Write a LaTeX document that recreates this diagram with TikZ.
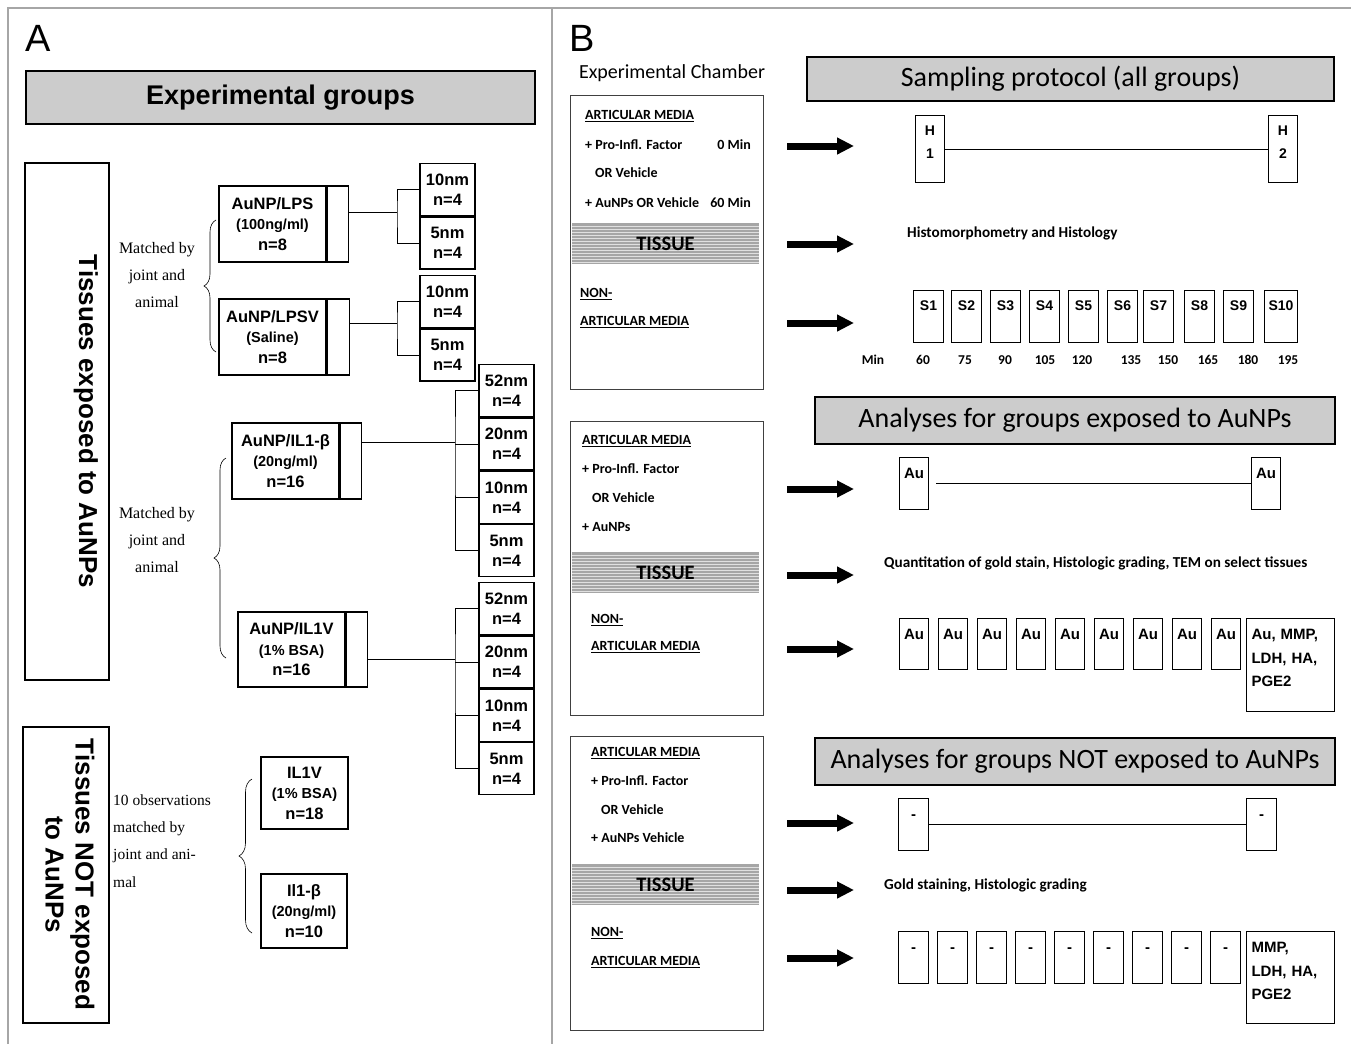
\documentclass[tikz,border=0pt]{standalone}
\usepackage{fontspec}
\setmainfont{Liberation Sans}
\newfontfamily\calibfont{Carlito}
\newfontfamily\romfont{Liberation Serif}
\usetikzlibrary{positioning,arrows.meta,calc,decorations.pathreplacing}
\newcommand{\fsz}[2]{\fontsize{#1}{#2}\selectfont}

\begin{document}
\begin{tikzpicture}[x=1pt, y=-1pt,
  every node/.style={inner sep=0pt},
  frame/.style={draw=black!35, line width=1.4pt},
  headbox/.style={draw, line width=1.3pt, fill=black!20},
  grpbox/.style={draw, line width=1.1pt, minimum width=107pt, minimum height=76pt,
                 align=center, font=\bfseries\fsz{16.5}{20.5}},
  tailbox/.style={draw, line width=1.1pt, minimum width=21pt, minimum height=76pt},
  sizebox/.style={draw, line width=1.3pt, minimum width=55pt, minimum height=52pt,
                  align=center, font=\bfseries\fsz{16.5}{20}},
  link/.style={line width=0.9pt},
  curly/.style={decorate, decoration={brace, amplitude=#1}, line width=0.6pt},
  romtext/.style={font=\romfont\fsz{16}{27}},
  chamber/.style={draw=black!75, line width=1pt, minimum width=193pt, minimum height=294pt},
  chtext/.style={anchor=west, font=\calibfont\bfseries\fsz{14}{16}},
  tissue/.style={fill=black!35, minimum width=187pt, minimum height=41pt,
                 font=\calibfont\bfseries\fsz{20.5}{22},
                 path picture={\foreach \k in {1,...,13}{
                   \draw[black!12, line width=0.8pt]
                     ($(path picture bounding box.north west)+(0,3*\k)$) --
                     ($(path picture bounding box.north east)+(0,3*\k)$);}}},
  fatarrow/.style={line width=7pt, -{Triangle[length=17pt, width=16pt]}},
  desc/.style={anchor=west, font=\calibfont\bfseries\fsz{15.2}{17}},
  minlbl/.style={font=\calibfont\bfseries\fsz{13.5}{15}},
  sampbox/.style={draw, line width=1pt, anchor=north west, minimum width=30pt,
                  text height=20pt, text depth=32pt, font=\bfseries\fsz{14}{16}},
  hbox/.style={draw, line width=1pt, anchor=north west, text width=29pt, align=center,
               text height=20pt, text depth=47pt, font=\bfseries\fsz{14}{23}},
  aubox/.style={draw, line width=1pt, anchor=north west, minimum width=29pt,
                text height=21pt, text depth=31pt, font=\bfseries\fsz{15}{17}},
  bigbox/.style={draw, line width=1pt, anchor=north west, text width=78pt, inner xsep=5pt,
                 align=left, text height=21pt, font=\bfseries\fsz{15}{23.5}}]
\useasboundingbox (0,0) rectangle (1351,1044);

% frame and panel letters
\draw[frame] (8,1044) -- (8,8) -- (1351,8);
\draw[frame] (552,8) -- (552,1044);
\node[font=\fsz{38}{40}] (labA) at (38,38.5) {A};
\node[font=\fsz{38}{40}] (labB) at (582,38.5) {B};

% ---------- panel A ----------
\node[headbox, minimum width=509pt, minimum height=53pt, font=\bfseries\fsz{27}{29}]
  (grpHd) at (280.5,97.5) {Experimental groups};

\node[draw, line width=1.1pt, minimum width=84pt, minimum height=517pt] (expBox) at (67,421.5) {};
\node[rotate=-90, anchor=base, font=\bfseries\fsz{26}{30}] (expTxt) at (79,421.5) {Tissues exposed to AuNPs};
\node[draw, line width=1.1pt, minimum width=86pt, minimum height=296pt] (ctlBox) at (66,875) {};
\node[rotate=-90, align=center, font=\bfseries\fsz{26}{30}] (ctlTxt) at (70,874.5) {Tissues NOT exposed\\to AuNPs};

% matched groups
\node[romtext, align=center] (match1) at (157,275) {Matched by\\joint and\\animal};
\draw[curly=12pt] (216,352) -- (216,220);
\node[romtext, align=center] (match2) at (157,540) {Matched by\\joint and\\animal};
\draw[curly=12pt] (226,658) -- (226,458);
\node[romtext, align=left, anchor=west, font=\romfont\fsz{15.5}{27.3}] (obs) at (113,841)
  {10 observations\\matched by\\joint and ani-\\mal};
\draw[curly=13pt] (252,933) -- (252,779);

\node[grpbox] (lps) at (272.5,224) {AuNP/LPS\\{\fsz{14.5}{20.5}(100ng/ml)}\\n=8};
\node[tailbox, right=0pt of lps] (lpsT) {};
\node[grpbox] (lpsv) at (272.5,337) {AuNP/LPSV\\{\fsz{14.5}{20.5}(Saline)}\\n=8};
\node[tailbox, minimum width=22pt, right=0pt of lpsv] (lpsvT) {};
\node[grpbox] (ilb) at (285.5,461) {AuNP/IL1-β\\{\fsz{14.5}{20.5}(20ng/ml)}\\n=16};
\node[tailbox, right=0pt of ilb] (ilbT) {};
\node[grpbox, minimum height=75pt] (ilv) at (291.5,649.5) {AuNP/IL1V\\{\fsz{14.5}{20.5}(1\% BSA)}\\n=16};
\node[tailbox, minimum height=75pt, right=0pt of ilv] (ilvT) {};
\node[grpbox, minimum width=87pt, minimum height=72pt] (ctlv) at (304.5,793) {IL1V\\{\fsz{14.5}{20.5}(1\% BSA)}\\n=18};
\node[grpbox, minimum width=86pt, minimum height=74pt] (ctlb) at (304,911) {Il1-β\\{\fsz{14.5}{20.5}(20ng/ml)}\\n=10};

% particle sizes
\node[sizebox, anchor=north] (lps10) at (447.5,163) {10nm\\n=4};
\node[sizebox, below=0pt of lps10] (lps5) {5nm\\n=4};
\node[sizebox, anchor=north] (lpsv10) at (447.5,275) {10nm\\n=4};
\node[sizebox, below=0pt of lpsv10] (lpsv5) {5nm\\n=4};
\node[sizebox, anchor=north] (ilb52) at (506.5,364) {52nm\\n=4};
\node[sizebox, below=0pt of ilb52] (ilb20) {20nm\\n=4};
\node[sizebox, below=0pt of ilb20] (ilb10) {10nm\\n=4};
\node[sizebox, below=0pt of ilb10] (ilb5) {5nm\\n=4};
\node[sizebox, anchor=north] (ilv52) at (506.5,582) {52nm\\n=4};
\node[sizebox, below=0pt of ilv52] (ilv20) {20nm\\n=4};
\node[sizebox, below=0pt of ilv20] (ilv10) {10nm\\n=4};
\node[sizebox, below=0pt of ilv10] (ilv5) {5nm\\n=4};

\coordinate (jlps) at (397,212);
\coordinate (jlpsv) at (397,323);
\coordinate (jilb) at (455,442);
\coordinate (jilv) at (455,659);
\draw[link] (jlps -| lpsT.east) -- (jlps);
\draw[link] (lps10.west) -| (jlps) |- (lps5.west);
\draw[link] (jlpsv -| lpsvT.east) -- (jlpsv);
\draw[link] (lpsv10.west) -| (jlpsv) |- (lpsv5.west);
\draw[link] (jilb -| ilbT.east) -- (jilb);
\draw[link] (ilb52.west) -| (jilb) |- (ilb5.west);
\draw[link] (jilv -| ilvT.east) -- (jilv);
\draw[link] (ilv52.west) -| (jilv) |- (ilv5.west);
\foreach \s in {20,10}{
  \draw[link] (jilb |- ilb\s.west) -- (ilb\s.west);
  \draw[link] (jilv |- ilv\s.west) -- (ilv\s.west);
}

% ---------- panel B ----------
\node[font=\calibfont\fsz{20}{22}] (chHd) at (672,73) {Experimental Chamber};

\node[chamber] (ch1) at (666.5,242.5) {};
\node[chtext] (c1art) at (585,116) {\underline{ARTICULAR MEDIA}};
\node[chtext] (c1pro) at (585,145) {+ Pro-Infl. Factor};
\node[chtext, anchor=east] (c1t0) at (751,145) {0 Min};
\node[chtext] (c1or) at (595,173) {OR Vehicle};
\node[chtext] (c1au) at (585,203) {+ AuNPs OR Vehicle};
\node[chtext, anchor=east] (c1t60) at (751,203) {60 Min};
\node[tissue] (c1tis) at (665.5,243.5) {TISSUE};
\node[chtext] (c1non) at (580,294) {\underline{NON-}};
\node[chtext] (c1nart) at (580,322) {\underline{ARTICULAR MEDIA}};

\node[chamber] (ch2) at (666.5,568) {};
\node[chtext] (c2art) at (582,441) {\underline{ARTICULAR MEDIA}};
\node[chtext] (c2pro) at (582,469) {+ Pro-Infl. Factor};
\node[chtext] (c2or) at (592,498) {OR Vehicle};
\node[chtext] (c2au) at (582,527) {+ AuNPs};
\node[tissue] (c2tis) at (665.5,572.5) {TISSUE};
\node[chtext] (c2non) at (591,620) {\underline{NON-}};
\node[chtext] (c2nart) at (591,647) {\underline{ARTICULAR MEDIA}};

\node[chamber] (ch3) at (666.5,883) {};
\node[chtext] (c3art) at (591,753) {\underline{ARTICULAR MEDIA}};
\node[chtext] (c3pro) at (591,781) {+ Pro-Infl. Factor};
\node[chtext] (c3or) at (601,810) {OR Vehicle};
\node[chtext] (c3au) at (591,838) {+ AuNPs Vehicle};
\node[tissue] (c3tis) at (665.5,884.5) {TISSUE};
\node[chtext] (c3non) at (591,933) {\underline{NON-}};
\node[chtext] (c3nart) at (591,962) {\underline{ARTICULAR MEDIA}};

\foreach \y [count=\i] in {146,244,323,489,575,649,823,890,958}{
  \coordinate (at\i) at (787,\y);
  \coordinate (ah\i) at (854,\y);
  \draw[fatarrow] (at\i) -- (ah\i);
}

% sampling protocol
\node[headbox, minimum width=527pt, minimum height=44pt, font=\calibfont\fsz{28}{30}]
  (sampHd) at (1070.5,79) {Sampling protocol (all groups)};
\node[hbox] (h1) at (915,115) {H\\1};
\node[hbox] (h2) at (1268,115) {H\\2};
\draw[link] (h1.east) -- (h2.west);
\node[desc] (histo) at (907,233) {Histomorphometry and Histology};
\foreach \xl/\lab [count=\i] in {913/S1,951/S2,990/S3,1029/S4,1068/S5,1107/S6,1143/S7,1184/S8,1223/S9}
  \node[sampbox] (s\i) at (\xl,290) {\lab};
\node[sampbox, minimum width=33pt] (s10) at (1264,290) {S10};
\node[minlbl] (minW) at (873,360) {Min};
\foreach \xc/\v [count=\i] in {923/60,965/75,1005/90,1045/105,1082/120,1131/135,1168/150,1208/165,1248/180,1288/195}
  \node[minlbl] (m\i) at (\xc,360) {\v};

% analyses, AuNP groups
\node[headbox, minimum width=520pt, minimum height=47pt, font=\calibfont\fsz{28}{30}]
  (auHd) at (1075,420.5) {Analyses for groups exposed to AuNPs};
\node[aubox] (au1) at (899,457) {Au};
\node[aubox] (au2) at (1251,457) {Au};
\draw[link, shorten <=7pt] (au1.east) -- (au2.west);
\node[desc] (quant) at (884,563) {Quantitation of gold stain, Histologic grading, TEM on select tissues};
\foreach \xl [count=\i] in {899,938,977,1016,1055,1094,1133,1172,1211}
  \node[aubox, text depth=30pt] (r\i) at (\xl,618) {Au};
\node[bigbox, text depth=72pt] (rbig) at (1246,618) {Au, MMP,\\LDH, HA,\\PGE2};

% analyses, control groups
\node[headbox, minimum width=520pt, minimum height=47pt, font=\calibfont\fsz{28}{30}]
  (noHd) at (1075,761.5) {Analyses for groups NOT exposed to AuNPs};
\node[aubox, minimum width=30pt] (d1) at (898,798) {-};
\node[aubox, minimum width=30pt] (d2) at (1246,798) {-};
\draw[link] (d1.east) -- (d2.west);
\node[desc] (gold) at (884,885) {Gold staining, Histologic grading};
\foreach \xl [count=\i] in {898,937,976,1015,1054,1093,1132,1171,1210}
  \node[aubox, minimum width=30pt] (q\i) at (\xl,931) {-};
\node[bigbox, text depth=71pt] (qbig) at (1246,931) {MMP,\\LDH, HA,\\PGE2};
\end{tikzpicture}
\end{document}
